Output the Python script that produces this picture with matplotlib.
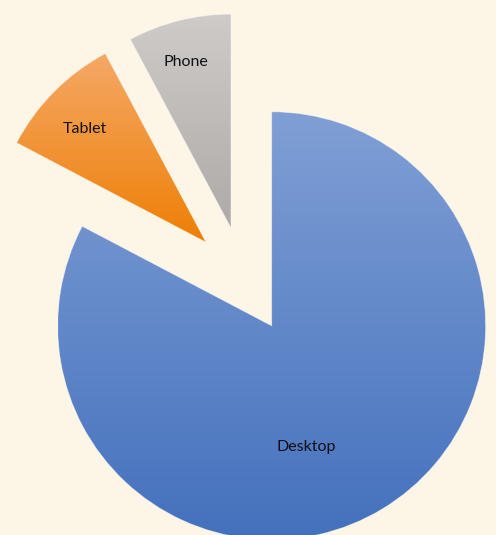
import numpy as np
import matplotlib
matplotlib.use("Agg")
import matplotlib.pyplot as plt
from matplotlib.colors import LinearSegmentedColormap

# Data
labels = ["Desktop", "Tablet", "Phone"]
shares = [82.7, 9.5, 7.8]
explode = [0.25, 0.25, 0.25]  # fraction of radius

# Gradient colors (top, bottom) per slice
grad_colors = [("#809FD5", "#4471BD"), ("#F5A866", "#EE7F05"), ("#CECBC9", "#ADAAA8")]
bg = "#FDF5E6"

radius = 214
fig = plt.figure(figsize=(4.96, 5.35), dpi=100, facecolor=bg)
ax = fig.add_axes([0, 0, 1, 1])
ax.set_facecolor(bg)

# matplotlib's explode is in data units, so scale by radius
wedges, _ = ax.pie(shares, explode=[e * radius for e in explode], startangle=90,
                   counterclock=False, center=(244, 255), radius=radius,
                   wedgeprops=dict(facecolor="none", edgecolor="none"))

ax.set_aspect("equal")
ax.axis("off")

# Fill each wedge with a vertical gradient clipped to its shape
grad = np.linspace(0, 1, 256).reshape(-1, 1)
for w, (top, bottom) in zip(wedges, grad_colors):
    path = w.get_path().transformed(w.get_patch_transform())
    bb = path.get_extents()
    cmap = LinearSegmentedColormap.from_list("g", [bottom, top])
    im = ax.imshow(grad, cmap=cmap, origin="lower", aspect="auto",
                   extent=(bb.x0, bb.x1, bb.y0, bb.y1), zorder=1)
    im.set_clip_path(w)
    w.set_edgecolor((1, 1, 1, 0.5))
    w.set_linewidth(0.6)
    w.set_zorder(2)

ax.set_xlim(0, 496)
ax.set_ylim(0, 535)

# Slice labels
label_pos = [(306, 535 - 447), (85, 535 - 129), (186, 535 - 62)]
for name, (x, y) in zip(labels, label_pos):
    ax.text(x, y, name, ha="center", va="center", fontsize=11.5,
            family="Lato", color="#111111", zorder=3)

fig.savefig("out.png", dpi=100, facecolor=bg)
